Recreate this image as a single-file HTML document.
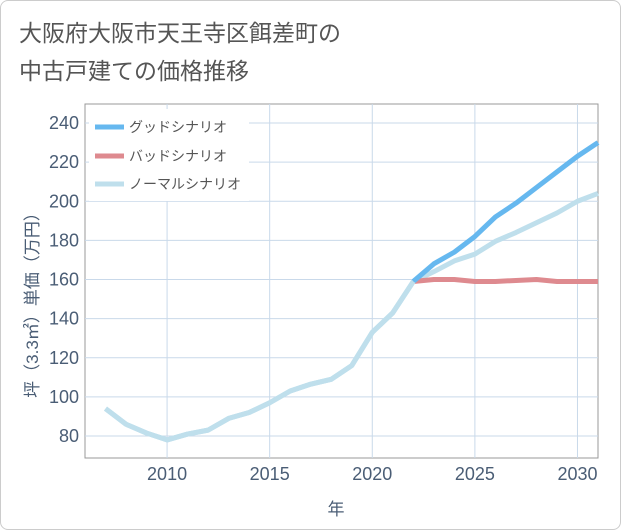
<!DOCTYPE html>
<html><head><meta charset="utf-8"><style>
body{margin:0;background:#fff;}
#wrap{position:relative;width:619px;height:528px;border:1px solid #ccc;border-radius:8px;overflow:hidden;font-family:"Liberation Sans","Noto Sans CJK JP",sans-serif;}
#title{position:absolute;left:18px;top:13px;font-size:23px;line-height:38px;color:#555;}
</style></head><body>
<div id="wrap">
<div id="title">大阪府大阪市天王寺区餌差町の<br>中古戸建ての価格推移</div>
<svg id="chart" width="621" height="530" style="position:absolute;left:0;top:0"></svg>
</div>
<script>
const years=[2007,2008,2009,2010,2011,2012,2013,2014,2015,2016,2017,2018,2019,2020,2021,2022,2023,2024,2025,2026,2027,2028,2029,2030,2031];
const normal=[94,86,81.5,78,81,83,89,92,97,103,106.5,109,116,133,143,159,164,169.5,173,179.5,184,189,194,200,204];
const goodYears=[2022,2023,2024,2025,2026,2027,2028,2029,2030,2031];
const good=[159,168,174,182,192,199,207,215,223,230];
const bad=[159,160,160,159,159,159.5,160,159,159,159];
const yTicks=[80,100,120,140,160,180,200,220,240];
const xTicks=[2010,2015,2020,2025,2030];
const L=84,R=597,T=103,B=457;
const xs=v=>L+(v-2006)*(R-L)/25;
const ys=v=>435-(v-80)*313/160;
const svg=document.getElementById('chart');
const NS='http://www.w3.org/2000/svg';
function mk(tag,attrs,parent){const e=document.createElementNS(NS,tag);for(const k in attrs)e.setAttribute(k,attrs[k]);(parent||svg).appendChild(e);return e;}
const bg=mk('rect',{x:L,y:T,width:R-L,height:B-T,fill:'#fff',stroke:'#999','stroke-width':1});


yTicks.forEach(v=>{
 const g=mk('line',{x1:L,x2:R,y1:ys(v),y2:ys(v),stroke:'#c9d9ea','stroke-width':1});
 
 
 const t=mk('text',{x:L-6,y:ys(v)+6,'text-anchor':'end','font-size':18,fill:'#4a5d75'});
 t.textContent=v;
 
 
});
xTicks.forEach(v=>{
 const g=mk('line',{x1:xs(v),x2:xs(v),y1:T,y2:B,stroke:'#c9d9ea','stroke-width':1});
 
 
 const t=mk('text',{x:xs(v),y:B+22,'text-anchor':'middle','font-size':18,fill:'#4a5d75'});
 t.textContent=v;
 
 
});
const xt=mk('text',{x:335,y:514,'text-anchor':'middle','font-size':17,fill:'#4a5d75'});
xt.textContent='年';


const yt=mk('text',{x:0,y:0,'text-anchor':'middle','font-size':17,fill:'#4a5d75',transform:'translate(37,300) rotate(-90)'});
yt.textContent='坪（3.3㎡）単価（万円）';


function line(xv,yv,color,name){
 const p=mk('polyline',{points:xv.map((x,i)=>xs(x)+','+ys(yv[i])).join(' '),fill:'none',stroke:color,'stroke-width':5,'stroke-linejoin':'round'});
 
 
}
line(years,normal,'#bfdfec','normal-scenario-line');
line(goodYears,bad,'#de8a8f','bad-scenario-line');
line(goodYears,good,'#66b8ef','good-scenario-line');
line(years.slice(0,16),normal.slice(0,16),'#bfdfec','normal-history-line');
const lg=mk('rect',{x:88,y:108,width:160,height:92,fill:'#fff'});


[['グッドシナリオ','#66b8ef',126],['バッドシナリオ','#de8a8f',155],['ノーマルシナリオ','#bfdfec',183]].forEach(([n,c,y])=>{
 const s=mk('line',{x1:94,x2:123,y1:y,y2:y,stroke:c,'stroke-width':5});
 
 
 const t=mk('text',{x:128,y:y+5,'font-size':14,fill:'#555'});
 t.textContent=n;
 
 
});
</script>
</body></html>
